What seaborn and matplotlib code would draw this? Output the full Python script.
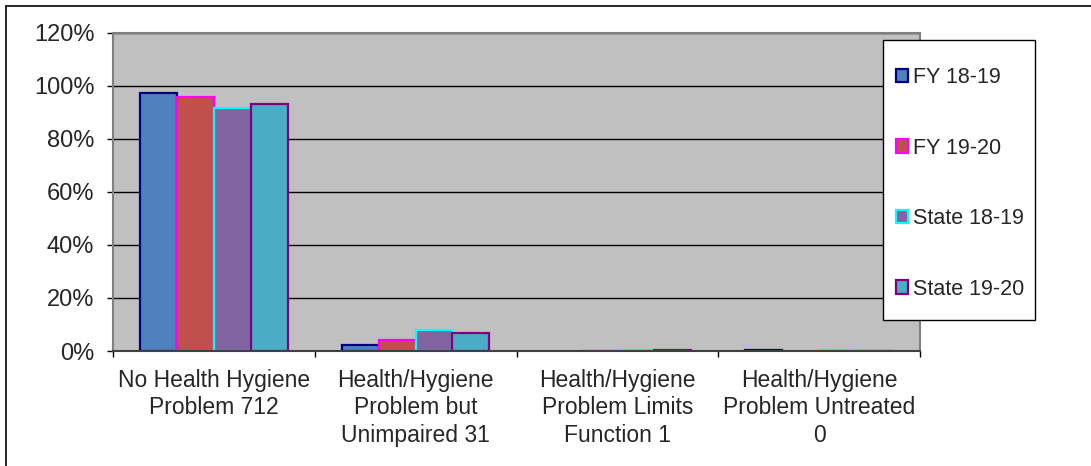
"""
Health/Hygiene problem distribution - grouped bar chart
"""

import numpy as np
import pandas as pd
import matplotlib
matplotlib.use("Agg")
import matplotlib.pyplot as plt
from matplotlib.lines import Line2D
from matplotlib.patches import Patch, Rectangle
from matplotlib.ticker import FuncFormatter, FixedLocator
import seaborn as sns

# Data (percent of clients)
categories = [
    "No Health Hygiene\nProblem 712",
    "Health/Hygiene\nProblem but\nUnimpaired 31",
    "Health/Hygiene\nProblem Limits\nFunction 1",
    "Health/Hygiene\nProblem Untreated\n0",
]
series_names = ["FY 18-19", "FY 19-20", "State 18-19", "State 19-20"]
fy_18_19 = [97.2, 2.4, 0.0, 0.4]
fy_19_20 = [95.7, 4.2, 0.1, 0.0]
state_18_19 = [91.7, 7.9, 0.3, 0.2]
state_19_20 = [93.1, 6.6, 0.2, 0.1]
y_ticks = [0, 20, 40, 60, 80, 100, 120]

fill_colors = ["#4F81BD", "#C0504D", "#8064A2", "#4BACC6"]
edge_colors = ["#000080", "#FF00FF", "#00FFFF", "#800080"]

df = pd.DataFrame({
    "category": np.tile(categories, 4),
    "series": np.repeat(series_names, len(categories)),
    "value": fy_18_19 + fy_19_20 + state_18_19 + state_19_20,
})

sns.set_style("white")
plt.rcParams["font.family"] = ["Liberation Sans", "DejaVu Sans"]

W, H = 1091, 466
fig = plt.figure(figsize=(W / 100, H / 100), dpi=100)
ax = fig.add_axes([113 / W, 1 - 351 / H, 807 / W, (351 - 32.7) / H])
ax.set_facecolor("#C0C0C0")

sns.barplot(data=df, x="category", y="value", hue="series", order=categories,
            hue_order=series_names, palette=fill_colors, saturation=1,
            width=0.73, gap=0, dodge=True, errorbar=None, legend=False,
            ax=ax, zorder=3)

# colored outlines per series, hide zero-height bars
for cont, ec in zip(ax.containers, edge_colors):
    for bar in cont:
        bar.set_edgecolor(ec)
        bar.set_linewidth(1.6)
        if bar.get_height() == 0:
            bar.set_linewidth(0)

ax.set_ylim(0, 120)
ax.set_xlim(-0.5, len(categories) - 0.5)
ax.yaxis.set_major_locator(FixedLocator(y_ticks))
ax.yaxis.set_major_formatter(FuncFormatter(lambda v, p: f"{v:.0f}%"))
ax.set_axisbelow(True)
ax.yaxis.grid(True, color="black", linewidth=1.0)
ax.xaxis.grid(False)

ax.set_xlabel("")
ax.set_ylabel("")

ax.tick_params(axis="y", which="major", left=True, length=4.5, width=1,
               color="black", pad=9, labelsize=17)
ax.tick_params(axis="x", which="major", length=0, pad=13, labelsize=16.5)
ax.set_xticks(np.arange(-0.5, len(categories)), minor=True)
ax.tick_params(axis="x", which="minor", bottom=True, length=4.5, width=1,
               color="black")
for lbl in ax.get_xticklabels():
    lbl.set_linespacing(1.24)

for side in ["left", "top", "right"]:
    ax.spines[side].set_color("#808080")
    ax.spines[side].set_linewidth(1.5)
ax.spines["bottom"].set_color("#404040")
ax.spines["bottom"].set_linewidth(1.5)
ax.spines["bottom"].set_zorder(4)

# legend box drawn separately, entries placed inside it
fig.add_artist(Rectangle((883 / W, 1 - 320 / H), 152 / W, 280 / H,
                         transform=fig.transFigure, facecolor="white",
                         edgecolor="black", linewidth=1.0, zorder=5))
handles = [Patch(facecolor=f, edgecolor=e, linewidth=1.6)
           for f, e in zip(fill_colors, edge_colors)]
leg = fig.legend(handles, series_names, loc="upper left",
                 bbox_to_anchor=(896 / W, 1 - 67 / H),
                 fontsize=15.5, frameon=False,
                 handlelength=0.57, handleheight=0.57, handletextpad=0.2,
                 labelspacing=2.3, borderpad=0, borderaxespad=0)
leg.set_zorder(6)

# outer chart frame (left and top edges only visible)
fig.add_artist(Line2D([6 / W, 6 / W], [0, 1 - 6 / H],
                      color="black", linewidth=1.2, transform=fig.transFigure))
fig.add_artist(Line2D([6 / W, 1], [1 - 6 / H, 1 - 6 / H],
                      color="black", linewidth=1.2, transform=fig.transFigure))

fig.savefig("out.png", dpi=100, facecolor="white")
plt.close(fig)
